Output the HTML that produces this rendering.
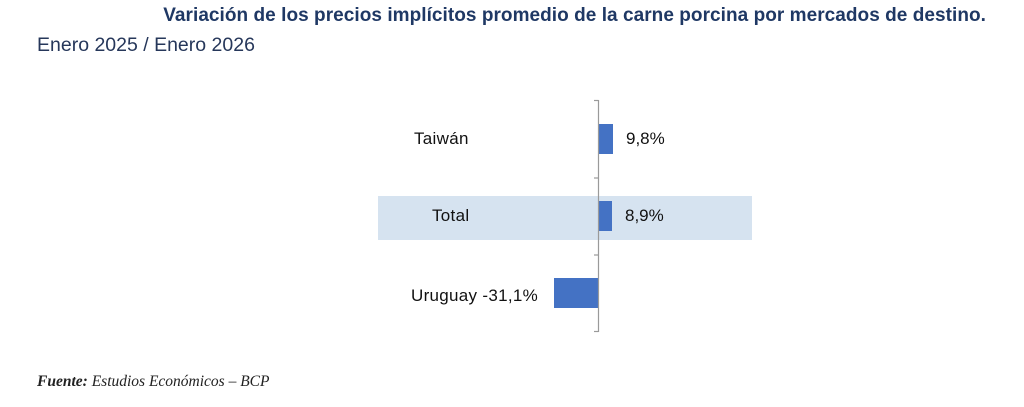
<!DOCTYPE html>
<html><head><meta charset="utf-8"><style>
body{margin:0;width:1024px;height:407px;background:#fff;position:relative;overflow:hidden;font-family:"Liberation Sans",sans-serif}
.a{position:absolute;white-space:nowrap}
.t{font-weight:bold;color:#1f3864;font-size:19px;right:38px;top:5px;letter-spacing:0.05px}
.s{color:#26375a;font-size:19.5px;left:37px;top:34px}
.l{font-size:17px;color:#111}
.f{font-family:"Liberation Serif",serif;font-style:italic;font-size:15.5px;left:37px;top:373px;color:#222}
</style></head><body>
<div class="a t">Variación de los precios implícitos promedio de la carne porcina por mercados de destino.</div>
<div class="a s">Enero 2025 / Enero 2026</div>
<svg class="a" style="left:0;top:0" width="1024" height="407">
<rect x="378" y="196" width="374" height="44" fill="#d6e3f0"/>
<rect x="599" y="124" width="14" height="30" fill="#4472c4"/>
<rect x="599" y="201" width="13" height="30" fill="#4472c4"/>
<rect x="554" y="278" width="44" height="30" fill="#4472c4"/>
<g stroke="#9a9a9a" stroke-width="1.2" fill="none">
<line x1="598.5" y1="100" x2="598.5" y2="332"/>
<line x1="594" y1="100.5" x2="598.5" y2="100.5"/>
<line x1="594" y1="178" x2="598.5" y2="178"/>
<line x1="594" y1="255" x2="598.5" y2="255"/>
<line x1="594" y1="331.5" x2="598.5" y2="331.5"/>
</g>
</svg>
<div class="a l" style="left:414px;top:129px;letter-spacing:0.3px">Taiwán</div>
<div class="a l" style="left:432px;top:206px;letter-spacing:0.3px">Total</div>
<div class="a l" style="left:411px;top:286px;letter-spacing:0.3px">Uruguay -31,1%</div>
<div class="a l" style="left:626px;top:129px">9,8%</div>
<div class="a l" style="left:625px;top:206px">8,9%</div>
<div class="a f"><b>Fuente:</b> Estudios Económicos – BCP</div>
</body></html>
